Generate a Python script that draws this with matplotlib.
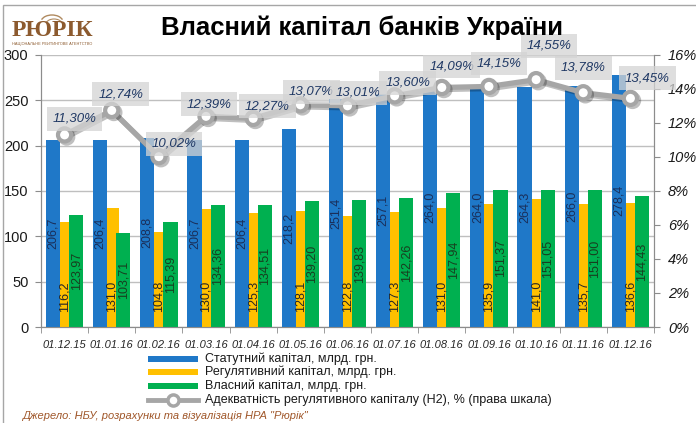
import matplotlib
matplotlib.use("Agg")
import matplotlib.pyplot as plt
import matplotlib.patheffects as pe
from matplotlib.patches import Rectangle, Arc
from matplotlib.lines import Line2D
import numpy as np

plt.rcParams['font.family'] = ['Liberation Sans', 'DejaVu Sans']

dates = ["01.12.15", "01.01.16", "01.02.16", "01.03.16", "01.04.16", "01.05.16", "01.06.16",
         "01.07.16", "01.08.16", "01.09.16", "01.10.16", "01.11.16", "01.12.16"]
statutory = [206.7, 206.4, 208.8, 206.7, 206.4, 218.2, 251.4, 257.1, 264.0, 264.0, 264.3, 266.0, 278.4]
regulatory = [116.2, 131.0, 104.8, 130.0, 125.3, 128.1, 122.8, 127.3, 131.0, 135.9, 141.0, 135.7, 136.6]
equity = [123.97, 103.71, 115.39, 134.36, 134.51, 139.20, 139.83, 142.26, 147.94, 151.37, 151.05, 151.00, 144.43]
h2 = [11.30, 12.74, 10.02, 12.39, 12.27, 13.07, 13.01, 13.60, 14.09, 14.15, 14.55, 13.78, 13.45]

legend_names = ["Статутний капітал, млрд. грн.", "Регулятивний капітал, млрд. грн.",
                "Власний капітал, млрд. грн.", "Адекватність регулятивного капіталу (Н2), % (права шкала)"]

# label offsets for the % boxes (pixels, relative to point)
lbl_dx = [10, 9, 15, 3, 14, 11, 11, 13, 10, 10, 13, 0, 17]
lbl_dy = [-16, -16, -13, -12, -12, -13, -13, -13, -21, -23, -34, -25, -20]

c_blue = "#1F78C8"
c_yel = "#FFC000"
c_grn = "#00B050"
c_line = "#A6A6A6"

W, H = 696, 423
fig = plt.figure(figsize=(W / 100, H / 100), dpi=100)
ax = fig.add_axes([41 / W, 1 - 327 / H, (654 - 41) / W, (327 - 55) / H])
ax2 = ax.twinx()

x = np.arange(len(dates))
bw = 0.30
off = 0.246
b1 = ax.bar(x - off, statutory, bw, color=c_blue, zorder=4)
b2 = ax.bar(x, regulatory, bw, color=c_yel, zorder=3)
b3 = ax.bar(x + off, equity, bw, color=c_grn, zorder=3)

fmt = lambda v, d: f"{v:.{d}f}".replace(".", ",")
for i in range(len(dates)):
    ax.text(x[i] - off, statutory[i] / 2, fmt(statutory[i], 1), rotation=90, ha="center", va="center",
            fontsize=9, color="#1A2F5A", zorder=6)
    ax.text(x[i], 16, fmt(regulatory[i], 1), rotation=90, ha="center", va="bottom",
            fontsize=9, color="#262626", zorder=6)
    ax.text(x[i] + off, equity[i] / 2, fmt(equity[i], 2), rotation=90, ha="center", va="center",
            fontsize=9, color="#173F1F", zorder=6)

ax.set_xlim(-0.5, len(dates) - 0.5)
ax.set_ylim(0, 300)
ax.set_yticks(range(0, 301, 50))
ax.yaxis.grid(True, color="#BFBFBF", lw=1)
ax.set_axisbelow(True)
ax.set_xticks(x)
ax.set_xticklabels(dates, fontsize=8, style="italic", color="#262626")
ax.set_xticks(np.arange(-0.5, len(dates), 1), minor=True)
ax.tick_params(axis="x", which="major", length=0, pad=9)
ax.tick_params(axis="x", which="minor", length=4, color="#8C8C8C")
ax.tick_params(axis="y", labelsize=10.5, colors="#8C8C8C", labelcolor="#1a1a1a", length=4, pad=5)

ax2.set_ylim(0, 16)
ax2.set_yticks(range(0, 17, 2))
ax2.set_yticklabels([f"{v}%" for v in range(0, 17, 2)], fontsize=10.5, style="italic", color="#1a1a1a")
ax2.tick_params(axis="y", colors="#8C8C8C", labelcolor="#1a1a1a", length=4, pad=6)

for a in (ax, ax2):
    a.spines["top"].set_visible(False)
    for s in ("left", "right", "bottom"):
        a.spines[s].set_color("#8C8C8C")
ax2.set_zorder(ax.get_zorder() + 1)
ax2.patch.set_visible(False)

ax2.plot(x, h2, color=c_line, lw=3.8, marker="o", ms=9.5, mfc="white", mec=c_line, mew=3, zorder=5,
         path_effects=[pe.SimpleLineShadow(offset=(1.5, -1.5), alpha=0.25), pe.Normal()])

for i, v in enumerate(h2):
    ax2.annotate(fmt(v, 2) + "%", (x[i], v), xytext=(lbl_dx[i] * 0.72, -lbl_dy[i] * 0.72),
                 textcoords="offset points", ha="center", va="center", fontsize=9.5, style="italic",
                 color="#1F3864", zorder=7,
                 bbox=dict(boxstyle="square,pad=0.45", fc="#D4D4D4", ec="none", alpha=0.75))

# title and logo
fig.text(362 / W, 1 - 28 / H, "Власний капітал банків України", ha="center", va="center",
         fontsize=18.5, fontweight="bold", color="black")
fig.text(12 / W, 1 - 31 / H, "РЮРІК", ha="left", va="center", fontsize=17, fontweight="bold",
         family="Liberation Serif", color="#8C5A2E")
fig.text(12 / W, 1 - 44 / H, "НАЦІОНАЛЬНЕ РЕЙТИНГОВЕ АГЕНТСТВО", ha="left", va="center", fontsize=2.8,
         color="#8C5A2E")
fig.add_artist(Arc((52 / W, 1 - 22 / H), 22 / W, 14 / H, theta1=20, theta2=160, color="#B08A60", lw=1,
                   transform=fig.transFigure))
fig.add_artist(Arc((54 / W, 1 - 24 / H), 16 / W, 10 / H, theta1=20, theta2=160, color="#B08A60", lw=0.8,
                   transform=fig.transFigure))

# frame
fig.add_artist(Rectangle((3 / W, -0.05), 1.1, 1.05 - 5 / H, transform=fig.transFigure, fill=False,
                         ec="#A6A6A6", lw=1))

# legend
rows = [359, 372, 386, 400]
cols = [c_blue, c_yel, c_grn]
for k in range(3):
    fig.add_artist(Rectangle((148 / W, 1 - (rows[k] + 3) / H), 50 / W, 6 / H, transform=fig.transFigure,
                             fc=cols[k], ec="none"))
fig.add_artist(Line2D([148 / W, 198 / W], [1 - rows[3] / H] * 2, transform=fig.transFigure, color=c_line,
                      lw=3.5, zorder=5))
fig.add_artist(Line2D([173 / W], [1 - rows[3] / H], transform=fig.transFigure, color=c_line, lw=0,
                      marker="o", ms=8, mfc="white", mec=c_line, mew=2.5, zorder=6))
for k in range(4):
    fig.text(205 / W, 1 - rows[k] / H, legend_names[k], ha="left", va="center", fontsize=9, color="#1a1a1a")

fig.text(22 / W, 1 - 416 / H, "Джерело: НБУ, розрахунки та візуалізація НРА \"Рюрік\"", ha="left",
         va="center", fontsize=8, style="italic", color="#A0572A")

fig.savefig("out.png", dpi=100)
